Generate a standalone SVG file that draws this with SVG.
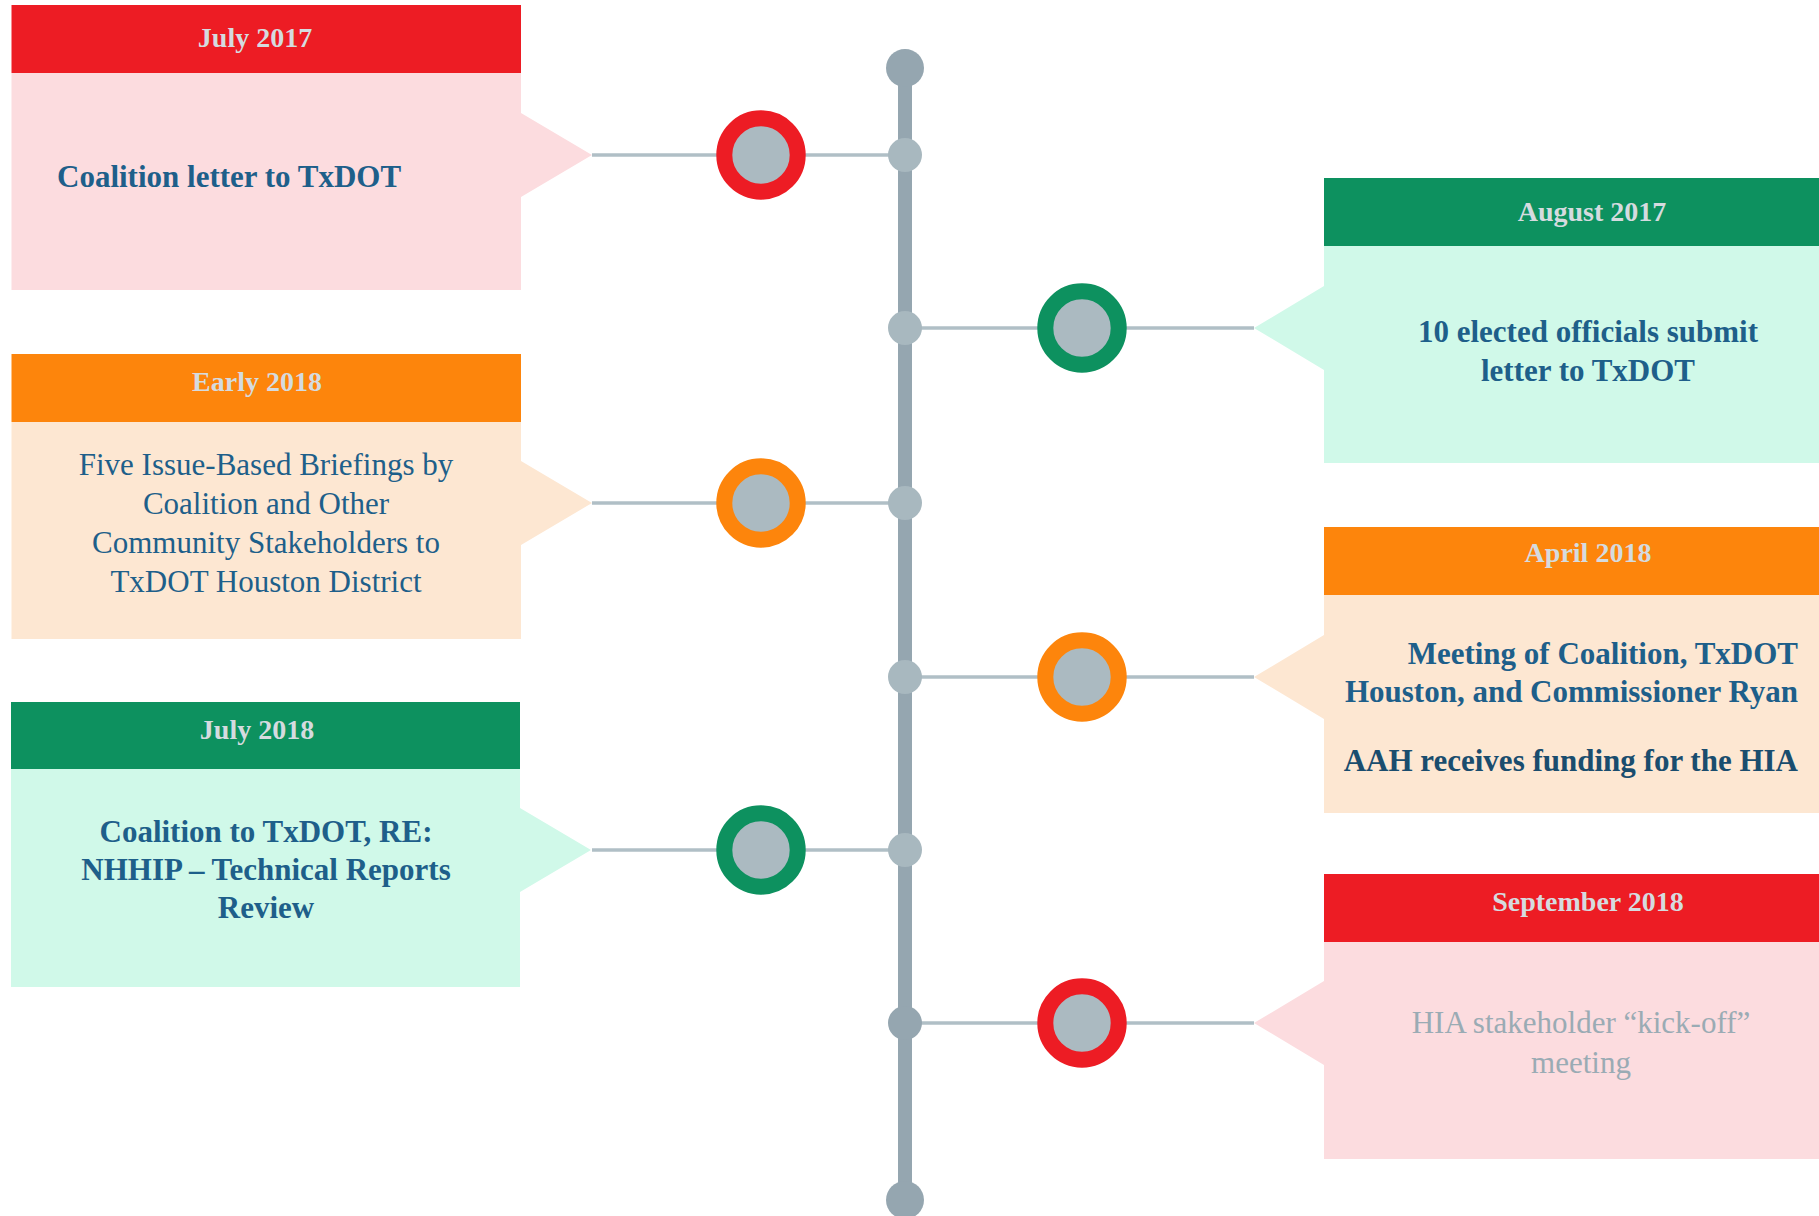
<svg xmlns="http://www.w3.org/2000/svg" width="1819" height="1216" viewBox="0 0 1819 1216">
<style>
.hd{font-family:"Liberation Serif","DejaVu Serif",serif;font-size:28px;font-weight:bold;fill:#d5dbdf;text-anchor:middle}
.bt{font-family:"Liberation Serif","DejaVu Serif",serif;font-size:31px;fill:#1e5f8a}
.b{font-weight:bold}
.red{fill:#ed1c24}.pink{fill:#fcdcdf}
.grn{fill:#0d915f}.mint{fill:#d0f9e9}
.org{fill:#fd850c}.peach{fill:#fde7d2}
.link{stroke:#b0bfc6;stroke-width:3.5;fill:none}
.spine{stroke:#95a6b0;stroke-width:14;fill:none}
.cap{fill:#95a6b0}
.joint{fill:#a8b8bf}
.ring{fill:#abbac1;stroke-width:16}
</style>
<g id="connectors">
<line class="link" x1="592" y1="155" x2="905" y2="155"/>
<line class="link" x1="905" y1="328" x2="1254" y2="328"/>
<line class="link" x1="592" y1="503" x2="905" y2="503"/>
<line class="link" x1="905" y1="677" x2="1254" y2="677"/>
<line class="link" x1="592" y1="850" x2="905" y2="850"/>
<line class="link" x1="905" y1="1023" x2="1254" y2="1023"/>
<line class="spine" x1="905" y1="68" x2="905" y2="1200"/>
<circle class="cap" cx="905" cy="68" r="19"/>
<circle class="cap" cx="905" cy="1200" r="19"/>
<circle class="joint" cx="905" cy="155" r="17"/>
<circle class="joint" cx="905" cy="328" r="17"/>
<circle class="joint" cx="905" cy="503" r="17"/>
<circle class="joint" cx="905" cy="677" r="17"/>
<circle class="joint" cx="905" cy="850" r="17"/>
<circle class="cap" cx="905" cy="1023" r="17"/>
</g>
<g id="july2017">
<rect class="red" x="11.5" y="5" width="509.5" height="68"/>
<polygon class="pink" points="11.5,73 521,73 521,113 592,155 521,197 521,290 11.5,290"/>
<text class="hd" x="255" y="47">July 2017</text>
<text class="bt b" x="57" y="187">Coalition letter to TxDOT</text>
<circle class="ring" cx="761" cy="155" r="36.7" stroke="#ed1c24"/>
</g>
<g id="aug2017">
<rect class="grn" x="1324" y="178" width="495" height="68"/>
<polygon class="mint" points="1324,246 1819,246 1819,463 1324,463 1324,370 1254,328 1324,286"/>
<text class="hd" x="1592" y="221">August 2017</text>
<text class="bt b" text-anchor="middle"><tspan x="1588" y="342">10 elected officials submit</tspan><tspan x="1588" y="381">letter to TxDOT</tspan></text>
<circle class="ring" cx="1082" cy="328" r="36.7" stroke="#0d915f"/>
</g>
<g id="early2018">
<rect class="org" x="11.5" y="354" width="509.5" height="68"/>
<polygon class="peach" points="11.5,422 521,422 521,461 592,503 521,545 521,639 11.5,639"/>
<text class="hd" x="257" y="391">Early 2018</text>
<text class="bt" text-anchor="middle"><tspan x="266" y="475">Five Issue-Based Briefings by</tspan><tspan x="266" y="514">Coalition and Other</tspan><tspan x="266" y="553">Community Stakeholders to</tspan><tspan x="266" y="592">TxDOT Houston District</tspan></text>
<circle class="ring" cx="761" cy="503" r="36.7" stroke="#fd850c"/>
</g>
<g id="apr2018">
<rect class="org" x="1324" y="527" width="495" height="68"/>
<polygon class="peach" points="1324,595 1819,595 1819,813 1324,813 1324,719 1254,677 1324,635"/>
<text class="hd" x="1588" y="562">April 2018</text>
<text class="bt b" text-anchor="end"><tspan x="1798" y="664">Meeting of Coalition, TxDOT</tspan><tspan x="1798" y="702">Houston, and Commissioner Ryan</tspan><tspan x="1798" y="771" fill="#1a4d6e">AAH receives funding for the HIA</tspan></text>
<circle class="ring" cx="1082" cy="677" r="36.7" stroke="#fd850c"/>
</g>
<g id="july2018">
<rect class="grn" x="11" y="702" width="509" height="67"/>
<polygon class="mint" points="11,769 520,769 520,808 591,850 520,892 520,987 11,987"/>
<text class="hd" x="257" y="739">July 2018</text>
<text class="bt b" text-anchor="middle"><tspan x="266" y="842">Coalition to TxDOT, RE:</tspan><tspan x="266" y="880">NHHIP – Technical Reports</tspan><tspan x="266" y="918">Review</tspan></text>
<circle class="ring" cx="761" cy="850" r="36.7" stroke="#0d915f"/>
</g>
<g id="sep2018">
<rect class="red" x="1324" y="874" width="495" height="68"/>
<polygon class="pink" points="1324,942 1819,942 1819,1159 1324,1159 1324,1065 1254,1023 1324,981"/>
<text class="hd" x="1588" y="911">September 2018</text>
<text class="bt" text-anchor="middle" style="fill:#9aabb4"><tspan x="1581" y="1033">HIA stakeholder “kick-off”</tspan><tspan x="1581" y="1073">meeting</tspan></text>
<circle class="ring" cx="1082" cy="1023" r="36.7" stroke="#ed1c24"/>
</g>
</svg>
